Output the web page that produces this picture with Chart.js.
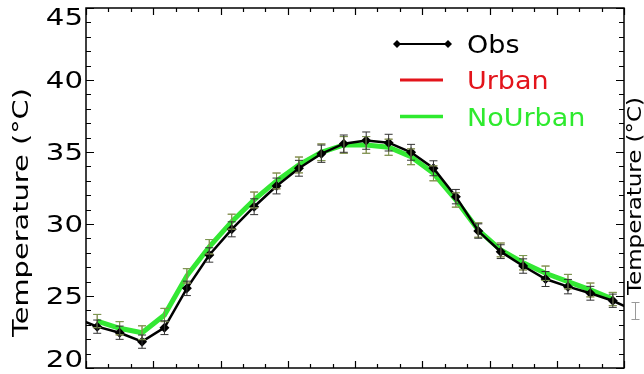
<!DOCTYPE html>
<html>
<head>
<meta charset="utf-8">
<script src="https://cdn.jsdelivr.net/npm/chart.js@4"></script>
<style>
  html, body { margin: 0; padding: 0; background: #fff; }
  #wrap { width: 644px; height: 374px; }
</style>
</head>
<body>
<div id="wrap"><canvas id="tempChart" width="644" height="374"></canvas></div>
<script>
// hours (local time, mid-hour), obs also has the neighbouring hours at both ends
const obsHours = [-0.5, 0.5, 1.5, 2.5, 3.5, 4.5, 5.5, 6.5, 7.5, 8.5, 9.5, 10.5, 11.5,
  12.5, 13.5, 14.5, 15.5, 16.5, 17.5, 18.5, 19.5, 20.5, 21.5, 22.5, 23.5, 24.5];
const obsTemp = [23.5, 22.87, 22.45, 21.83, 22.8, 25.53, 27.85, 29.63, 31.2, 32.64, 33.87, 34.88, 35.58,
  35.79, 35.65, 34.98, 33.87, 31.9, 29.51, 28.08, 27.08, 26.18, 25.65, 25.19, 24.67, 23.97];
const obsErr = [null, 0.46, 0.46, 0.46, 0.48, 0.5, 0.5, 0.52, 0.55, 0.55, 0.55, 0.6, 0.6,
  0.6, 0.58, 0.55, 0.52, 0.5, 0.5, 0.48, 0.5, 0.52, 0.5, 0.48, 0.46, null];

const modelHours = [0.5, 1.5, 2.5, 3.5, 4.5, 5.5, 6.5, 7.5, 8.5, 9.5, 10.5, 11.5,
  12.5, 13.5, 14.5, 15.5, 16.5, 17.5, 18.5, 19.5, 20.5, 21.5, 22.5, 23.5];
const urbanTemp = [23.26, 22.76, 22.45, 23.68, 26.4, 28.42, 30.16, 31.67, 32.99, 34.1, 34.98, 35.49,
  35.49, 35.33, 34.67, 33.52, 31.67, 29.58, 28.2, 27.31, 26.58, 26.0, 25.42, 24.79];
const noUrbanTemp = [23.26, 22.76, 22.45, 23.68, 26.4, 28.42, 30.16, 31.67, 32.99, 34.1, 34.98, 35.49,
  35.49, 35.33, 34.67, 33.52, 31.67, 29.58, 28.2, 27.31, 26.58, 26.0, 25.42, 24.79];
const modelErr = [0.46, 0.46, 0.48, 0.46, 0.5, 0.5, 0.52, 0.55, 0.55, 0.55, 0.58, 0.58,
  0.58, 0.56, 0.55, 0.52, 0.5, 0.5, 0.48, 0.5, 0.5, 0.5, 0.48, 0.46];

const yTicks = [20, 25, 30, 35, 40, 45];
const xMajorStep = 3;
const yTitle = 'Temperature (°C)';
const FONT = '"DejaVu Sans", sans-serif';

const pts = (xs, ys) => xs.map((h, i) => ({ x: h, y: ys[i] }));

// stretched text helper (the original font is wider than DejaVu)
function wideText(ctx, text, x, y, sx) {
  ctx.save();
  ctx.translate(x, y);
  ctx.scale(sx, 1);
  ctx.fillText(text, 0, 0);
  ctx.restore();
}

const errorBars = {
  id: 'errorBars',
  afterDatasetsDraw(chart) {
    const { ctx, chartArea: a, scales: { x, y } } = chart;
    ctx.save();
    ctx.beginPath();
    ctx.rect(a.left, a.top, a.width, a.height);
    ctx.clip();
    for (let d = chart.data.datasets.length - 1; d >= 0; d--) {
      const ds = chart.data.datasets[d];
      if (!ds.errors) continue;
      ctx.strokeStyle = ds.errorColor;
      ctx.lineWidth = 1;
      ds.data.forEach((p, i) => {
        const e = ds.errors[i];
        if (e == null) return;
        const px = x.getPixelForValue(p.x);
        const lo = y.getPixelForValue(p.y - e);
        const hi = y.getPixelForValue(p.y + e);
        ctx.beginPath();
        ctx.moveTo(px, lo); ctx.lineTo(px, hi);
        ctx.moveTo(px - 4, lo); ctx.lineTo(px + 4, lo);
        ctx.moveTo(px - 4, hi); ctx.lineTo(px + 4, hi);
        ctx.stroke();
      });
    }
    ctx.restore();
  }
};

const frame = {
  id: 'frame',
  afterDraw(chart) {
    const { ctx, chartArea: a, scales: { x, y } } = chart;
    ctx.save();
    ctx.strokeStyle = '#000';
    ctx.lineWidth = 1.5;
    ctx.strokeRect(a.left, a.top, a.width, a.height);

    ctx.lineWidth = 1.2;
    ctx.beginPath();
    for (let h = x.min; h <= x.max; h++) {
      const px = Math.round(x.getPixelForValue(h)) + 0.5;
      const len = h % xMajorStep === 0 ? 7 : 4;
      ctx.moveTo(px, a.bottom); ctx.lineTo(px, a.bottom - len);
      ctx.moveTo(px, a.top); ctx.lineTo(px, a.top + len);
    }
    for (let v = y.min; v <= y.max; v++) {
      const py = Math.round(y.getPixelForValue(v)) + 0.5;
      const len = v % 5 === 0 ? 8 : 5;
      ctx.moveTo(a.left, py); ctx.lineTo(a.left + len, py);
      ctx.moveTo(a.right, py); ctx.lineTo(a.right - len, py);
    }
    ctx.stroke();

    // y tick labels, end labels kept inside the axis span
    ctx.fillStyle = '#000';
    ctx.font = '23px ' + FONT;
    ctx.textAlign = 'right';
    ctx.textBaseline = 'alphabetic';
    yTicks.forEach(v => {
      let base = y.getPixelForValue(v) + 8.3;
      if (v === y.max) base = a.top + 17;
      if (v === y.min) base = a.bottom - 1;
      wideText(ctx, String(v), 83, base, 1.27);
    });

    // y title
    ctx.font = '22px ' + FONT;
    ctx.textAlign = 'center';
    let w = ctx.measureText(yTitle).width;
    ctx.save();
    ctx.translate(27.7, 212.5);
    ctx.rotate(-Math.PI / 2);
    ctx.scale(249 / w, 1);
    ctx.fillText(yTitle, 0, 0);
    ctx.restore();

    // edge of the neighbouring panel
    ctx.font = '20px ' + FONT;
    w = ctx.measureText(yTitle).width;
    ctx.save();
    ctx.translate(640.5, 196);
    ctx.rotate(-Math.PI / 2);
    ctx.scale(198 / w, 1);
    ctx.fillText(yTitle, 0, 0);
    ctx.restore();
    ctx.strokeStyle = '#999';
    ctx.lineWidth = 1;
    ctx.beginPath();
    ctx.moveTo(635.5, 302); ctx.lineTo(635.5, 320);
    ctx.moveTo(631.5, 302.5); ctx.lineTo(639.5, 302.5);
    ctx.moveTo(631.5, 319.5); ctx.lineTo(639.5, 319.5);
    ctx.stroke();

    // legend
    ctx.textAlign = 'left';
    ctx.font = '25px ' + FONT;
    const rows = [
      { label: 'Obs', color: '#000', lw: 2, y: 44, x0: 397, x1: 448, marker: true },
      { label: 'Urban', color: '#e3141b', lw: 3, y: 80, x0: 400, x1: 443 },
      { label: 'NoUrban', color: '#2eea2e', lw: 3.5, y: 116.5, x0: 400, x1: 443 }
    ];
    rows.forEach(r => {
      ctx.strokeStyle = r.color;
      ctx.lineWidth = r.lw;
      ctx.beginPath();
      ctx.moveTo(r.x0, r.y); ctx.lineTo(r.x1, r.y);
      ctx.stroke();
      if (r.marker) {
        ctx.fillStyle = r.color;
        [r.x0, r.x1].forEach(mx => {
          ctx.beginPath();
          ctx.moveTo(mx, r.y - 4); ctx.lineTo(mx + 4, r.y);
          ctx.lineTo(mx, r.y + 4); ctx.lineTo(mx - 4, r.y);
          ctx.closePath();
          ctx.fill();
        });
      }
      ctx.fillStyle = r.color === '#000' ? '#000' : r.color;
      wideText(ctx, r.label, 467, r.y + 9.2, 1.08);
    });
    ctx.restore();
  }
};

new Chart(document.getElementById('tempChart'), {
  type: 'line',
  data: {
    datasets: [{
      label: 'Obs',
      data: pts(obsHours, obsTemp),
      errors: obsErr,
      errorColor: '#333',
      borderColor: '#000',
      backgroundColor: '#000',
      borderWidth: 2.5,
      pointStyle: 'rectRot',
      pointRadius: 5,
      pointBorderWidth: 0,
      pointBackgroundColor: '#000',
      tension: 0
    }, {
      label: 'NoUrban',
      data: pts(modelHours, noUrbanTemp),
      errors: modelErr,
      errorColor: '#7a9a52',
      borderColor: '#33e833',
      borderWidth: 5,
      pointRadius: 0,
      tension: 0
    }, {
      label: 'Urban',
      data: pts(modelHours, urbanTemp),
      errors: modelErr,
      errorColor: '#a07a50',
      borderColor: '#e3141b',
      borderWidth: 3,
      pointRadius: 0,
      tension: 0
    }]
  },
  options: {
    responsive: false,
    animation: false,
    events: [],
    layout: { padding: { left: 86, top: 8, right: 20, bottom: 6 } },
    plugins: { legend: { display: false }, tooltip: { enabled: false } },
    scales: {
      x: { type: 'linear', min: 0, max: 24, display: false },
      y: { type: 'linear', min: 20, max: 45, display: false }
    }
  },
  plugins: [errorBars, frame]
});
</script>
</body>
</html>
